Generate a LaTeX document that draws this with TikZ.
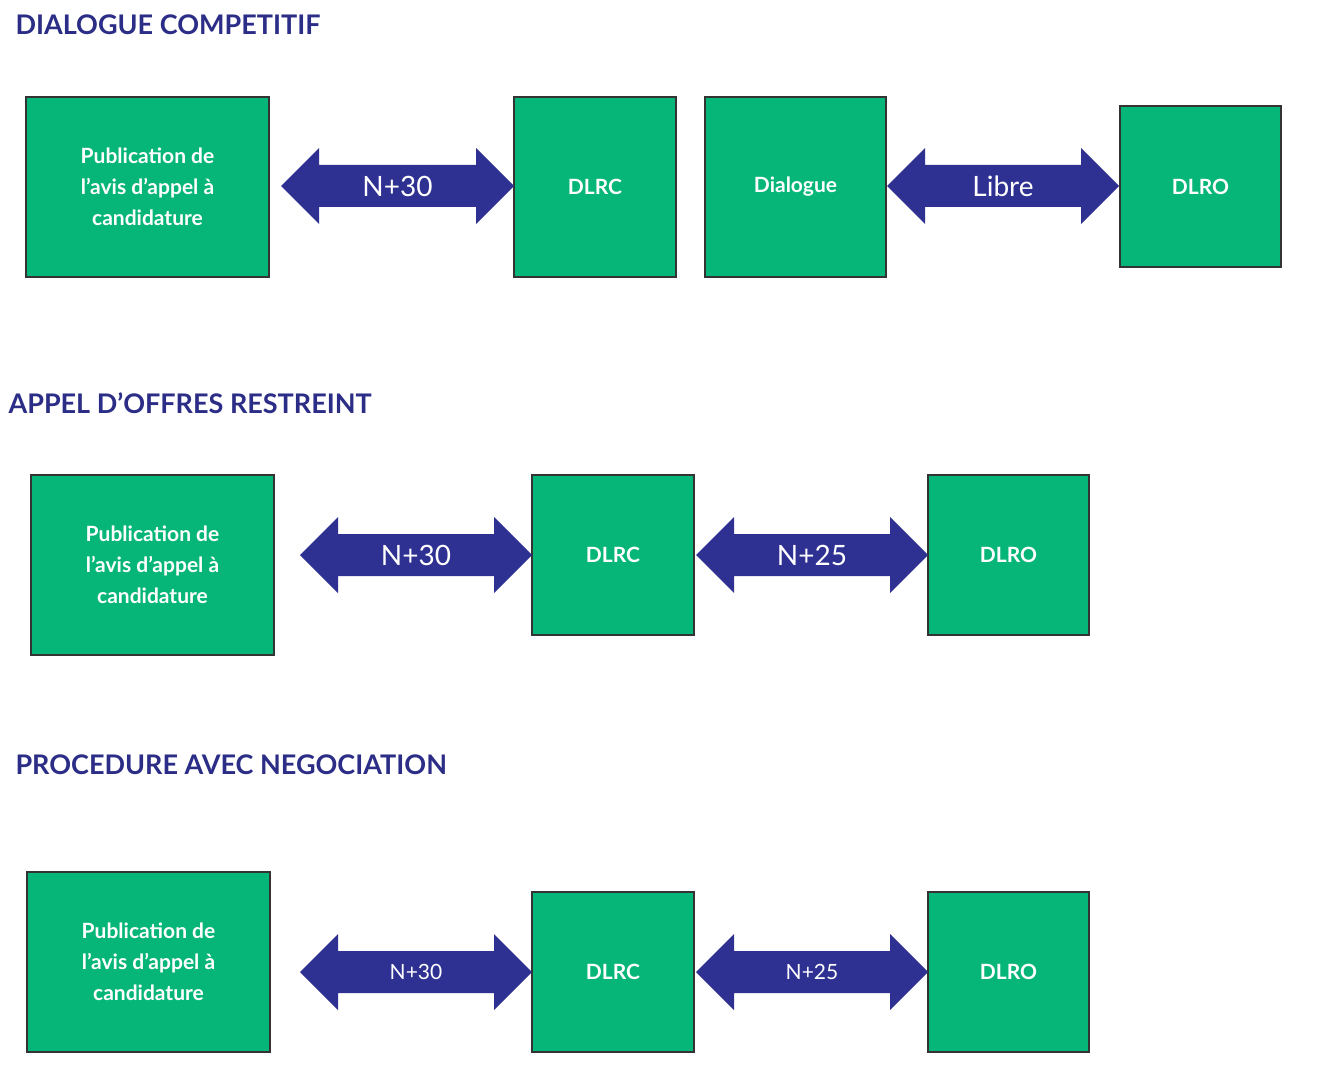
\documentclass[tikz,border=0pt]{standalone}
\usepackage{fontspec}
\setmainfont{Lato}
\definecolor{gr}{HTML}{05B678}
\definecolor{bl}{HTML}{2E3192}
\definecolor{tt}{HTML}{2B2D86}
\begin{document}
\begin{tikzpicture}[x=1pt,y=-1pt,
 box/.style={draw=black!80,line width=1.6pt,fill=gr,text=white,font=\fontsize{21}{31}\selectfont\bfseries,align=center},
 ttl/.style={anchor=west,text=tt,font=\fontsize{27}{30}\selectfont\bfseries},
 lab/.style={text=white}]
\useasboundingbox (0,0) rectangle (1330,1078);
\newcommand\bx[6]{\draw[box] (#2,#3) rectangle (#4,#5); \node[box,draw=none,fill=none] (#1) at ({(#2+#4)/2},{(#3+#5)/2}) {#6};}
\newcommand\darr[6]{\fill[bl] (#2,#4) -- (#2+38,#4-38) -- (#2+38,#4-21) -- (#3-38,#4-21) -- (#3-38,#4-38) -- (#3,#4) -- (#3-38,#4+38) -- (#3-38,#4+21) -- (#2+38,#4+21) -- (#2+38,#4+38) -- cycle;
 \node[lab,font=\fontsize{#6}{#6}\selectfont] (#1) at ({(#2+#3)/2},#4) {#5};}
\node[ttl] (t1) at (12,25) {DIALOGUE COMPETITIF};
\node[ttl] (t2) at (5,403) {APPEL D'OFFRES RESTREINT};
\node[ttl] (t3) at (12,765) {PROCEDURE AVEC NEGOCIATION};
\bx{a1}{26}{97}{269}{277}{Publication de\\l’avis d’appel à\\candidature}
\bx{b1}{514}{97}{676}{277}{DLRC}
\bx{c1}{705}{97}{886}{277}{Dialogue}
\bx{d1}{1120}{106}{1281}{267}{DLRO}
\darr{e1}{281}{514}{186}{N+30}{28}
\darr{f1}{887}{1119}{186}{Libre}{28}
\bx{a2}{31}{475}{274}{655}{Publication de\\l’avis d’appel à\\candidature}
\bx{b2}{532}{475}{694}{635}{DLRC}
\bx{d2}{928}{475}{1089}{635}{DLRO}
\darr{e2}{300}{532}{555}{N+30}{28}
\darr{f2}{696}{928}{555}{N+25}{28}
\bx{a3}{27}{872}{270}{1052}{Publication de\\l’avis d’appel à\\candidature}
\bx{b3}{532}{892}{694}{1052}{DLRC}
\bx{d3}{928}{892}{1089}{1052}{DLRO}
\darr{e3}{300}{532}{972}{N+30}{21}
\darr{f3}{696}{928}{972}{N+25}{21}
\end{tikzpicture}
\end{document}
